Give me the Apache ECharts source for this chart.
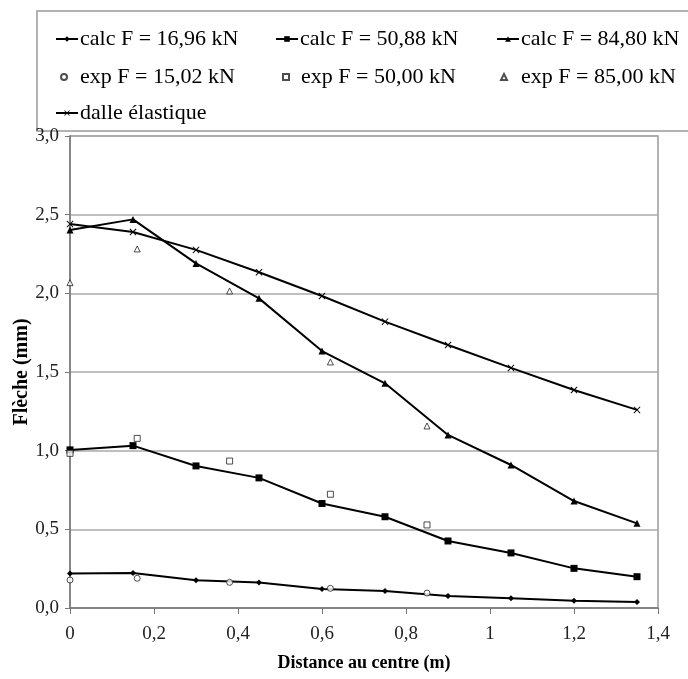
<!DOCTYPE html>
<html>
<head>
<meta charset="utf-8">
<script src="https://cdn.jsdelivr.net/npm/echarts@6/dist/echarts.min.js"></script>
<style>html,body{margin:0;padding:0;background:#fff}#c{width:688px;height:679px}</style>
</head>
<body>
<div id="c"></div>
<script>
// Data
const calcX = [0, 0.15, 0.3, 0.45, 0.6, 0.75, 0.9, 1.05, 1.2, 1.35];
const calc1696 = [0.22, 0.222, 0.177, 0.162, 0.121, 0.108, 0.076, 0.062, 0.046, 0.038];
const calc5088 = [1.005, 1.032, 0.903, 0.827, 0.664, 0.58, 0.426, 0.35, 0.252, 0.199];
const calc8480 = [2.403, 2.47, 2.19, 1.968, 1.633, 1.428, 1.10, 0.909, 0.68, 0.538];
const dalle = [2.44, 2.39, 2.276, 2.134, 1.983, 1.82, 1.672, 1.526, 1.386, 1.259];
const expX = [0, 0.16, 0.38, 0.62, 0.85];
const exp1502 = [0.178, 0.189, 0.163, 0.125, 0.095];
const exp5000 = [0.983, 1.078, 0.934, 0.723, 0.528];
const exp8500 = [2.068, 2.282, 2.015, 1.564, 1.157];
const names = ['calc F = 16,96 kN', 'calc F = 50,88 kN', 'calc F = 84,80 kN',
  'exp F = 15,02 kN', 'exp F = 50,00 kN', 'exp F = 85,00 kN', 'dalle élastique'];
const xTitle = 'Distance au centre (m)';
const yTitle = 'Flèche (mm)';

const pair = (xs, ys) => xs.map((x, i) => [x, ys[i]]);
const FONT = '"Liberation Serif", "Times New Roman", serif';
const xShape = 'path://M0,1 L1,0 L5,4 L9,0 L10,1 L6,5 L10,9 L9,10 L5,6 L1,10 L0,9 L4,5 Z';

function lineSeries(name, ys, symbol, size) {
  return {
    name, type: 'line', data: pair(calcX, ys), symbol, symbolSize: size,
    lineStyle: { color: '#000', width: 2 }, itemStyle: { color: '#000' },
    showAllSymbol: true, z: 3
  };
}
function expSeries(name, ys, symbol) {
  return {
    name, type: 'scatter', data: pair(expX, ys), symbol, symbolSize: 6,
    itemStyle: { color: '#fff', borderColor: '#222', borderWidth: 1 }, z: 4
  };
}
const rowTop = [28, 66, 102];
function lineLegend(name, left, row) {
  return {
    data: [name], left, top: rowTop[row], padding: 0, itemWidth: 22, itemHeight: 7,
    textStyle: { fontFamily: FONT, fontSize: 22, color: '#000', padding: [0, 0, 0, -3] },
    inactiveColor: '#000', selectedMode: false
  };
}
function expLegend(name, cx, textLeft, row) {
  return {
    data: [name], left: cx - 3, top: rowTop[row], padding: 0, itemWidth: 6, itemHeight: 6,
    textStyle: { fontFamily: FONT, fontSize: 22, color: '#000', padding: [0, 0, 0, textLeft - (cx + 3) - 5] },
    inactiveColor: '#000', selectedMode: false
  };
}

const chart = echarts.init(document.getElementById('c'), null, { renderer: 'canvas' });
chart.setOption({
  animation: false,
  backgroundColor: '#fff',
  graphic: [{
    type: 'rect', shape: { x: 37, y: 11, width: 700, height: 120 },
    style: { fill: 'none', stroke: '#999', lineWidth: 1.5 }, z: -1
  }],
  legend: [
    lineLegend(names[0], 55, 0),
    lineLegend(names[1], 275, 0),
    lineLegend(names[2], 496, 0),
    expLegend(names[3], 63, 79, 1),
    expLegend(names[4], 285, 300, 1),
    expLegend(names[5], 503, 520, 1),
    lineLegend(names[6], 55, 2)
  ],
  grid: { left: 70, right: 30, top: 136, bottom: 71, containLabel: false, outerBoundsMode: 'none',
    show: true, borderColor: '#999', borderWidth: 1.5, backgroundColor: '#fff' },
  xAxis: {
    type: 'value', min: 0, max: 1.4, interval: 0.2,
    name: xTitle, nameLocation: 'middle', nameGap: 46, nameMoveOverlap: false,
    nameTextStyle: { fontFamily: FONT, fontSize: 18, fontWeight: 'bold', color: '#000' },
    axisLine: { lineStyle: { color: '#777', width: 1.5 } },
    axisTick: { show: true, length: 6, lineStyle: { color: '#777' } },
    splitLine: { show: false },
    axisLabel: { fontFamily: FONT, fontSize: 19, color: '#222', margin: 17,
      formatter: v => String(Math.round(v * 10) / 10).replace('.', ',') }
  },
  yAxis: {
    type: 'value', min: 0, max: 3, interval: 0.5,
    name: yTitle, nameLocation: 'middle', nameGap: 38, nameRotate: 90, nameMoveOverlap: false,
    nameTextStyle: { fontFamily: FONT, fontSize: 20, fontWeight: 'bold', color: '#000' },
    axisLine: { show: true, lineStyle: { color: '#777', width: 1.5 } },
    axisTick: { show: true, length: 5, lineStyle: { color: '#777' } },
    splitLine: { show: true, lineStyle: { color: '#aaa', width: 1.5 } },
    axisLabel: { fontFamily: FONT, fontSize: 19, color: '#222', margin: 11,
      formatter: v => v.toFixed(1).replace('.', ',') }
  },
  series: [
    lineSeries(names[0], calc1696, 'diamond', 6),
    lineSeries(names[1], calc5088, 'rect', 7),
    lineSeries(names[2], calc8480, 'triangle', 7),
    expSeries(names[3], exp1502, 'circle'),
    expSeries(names[4], exp5000, 'rect'),
    expSeries(names[5], exp8500, 'triangle'),
    lineSeries(names[6], dalle, xShape, 7)
  ]
});
</script>
</body>
</html>
